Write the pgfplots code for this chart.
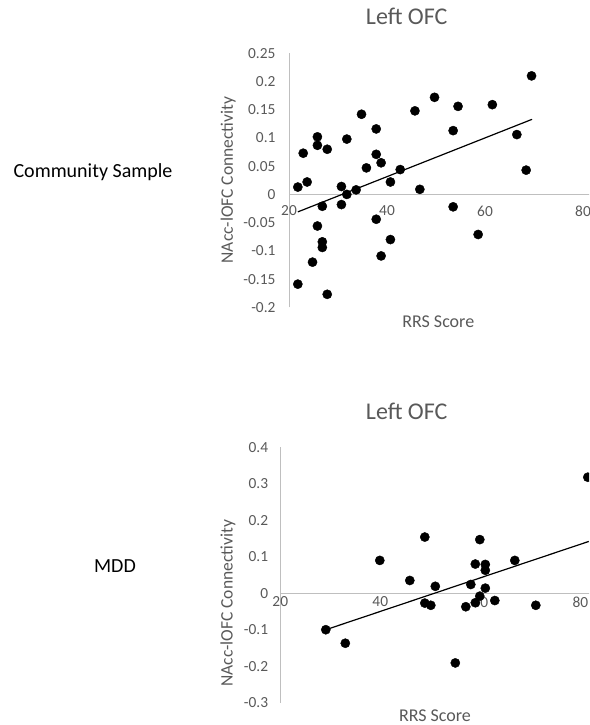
\documentclass[border=0pt]{standalone}
\usepackage{pgfplots}
\pgfplotsset{compat=1.18}
\usepackage{pgfplotstable}
\usepackage{fontspec}
\setmainfont{Carlito}

\definecolor{txtgray}{HTML}{595959}
\definecolor{axisgray}{HTML}{BFBFBF}

% community sample: RRS score vs connectivity
\pgfplotstableread{
x y
21.8 0.013
22.9 0.073
23.7 0.022
25.8 0.102
25.8 0.087
27.8 0.080
26.8 -0.021
25.8 -0.056
26.8 -0.084
26.8 -0.094
24.8 -0.120
21.8 -0.159
27.8 -0.177
30.7 0.014
30.7 -0.018
31.8 0.098
31.8 0.000
33.7 0.008
34.8 0.142
35.8 0.047
37.8 0.116
37.8 0.071
38.8 0.056
37.8 -0.044
38.8 -0.109
40.7 0.022
40.7 -0.080
42.7 0.044
45.7 0.148
46.7 0.009
49.7 0.172
53.5 0.113
53.5 -0.022
54.5 0.156
58.6 -0.071
61.5 0.159
66.5 0.106
68.4 0.043
69.5 0.210
}\community

% MDD sample
\pgfplotstableread{
x y
29.1 -0.100
33.0 -0.137
39.9 0.090
45.9 0.035
48.9 0.154
48.9 -0.027
50.1 -0.033
51.0 0.019
55.0 -0.191
57.1 -0.037
58.1 0.024
59.0 0.080
59.0 -0.026
59.9 -0.008
59.9 0.147
61.0 0.079
61.0 0.063
61.0 0.014
62.9 -0.020
66.9 0.090
71.1 -0.033
81.5 0.318
}\mdd

\pgfplotsset{
  excelscatter/.style={
    scale only axis, anchor=south west,
    axis x line=middle, axis y line=left,
    axis line style={-, draw=axisgray, line width=0.9pt},
    hide obscured x ticks=false, hide obscured y ticks=false,
    major tick length=0pt,
    tick label style={font=\fontsize{15.4}{17}\selectfont, text=txtgray},
    xmin=20, xmax=100, xtick={20,40,60,80},
    xticklabels={20,40,60,80},
    clip=false,
  },
}

\begin{document}
\begin{tikzpicture}[x=1pt,y=1pt]
\begin{scope}
\clip (0,0) rectangle (589,725);

% top chart
\begin{axis}[excelscatter,
  at={(289pt,417.7pt)}, width=392pt, height=254pt,
  ymin=-0.2, ymax=0.25,
  ytick={-0.2,-0.15,-0.1,-0.05,0,0.05,0.1,0.15,0.2,0.25},
  yticklabels={-0.2,-0.15,-0.1,-0.05,0,0.05,0.1,0.15,0.2,0.25},
  xticklabel style={yshift=-8pt},
  yticklabel style={xshift=-10pt},
]
\addplot[only marks, mark=*, mark size=4.6pt, black] table[x=x,y=y] {\community};
\addplot[black, line width=1.2pt] coordinates {(21.8,-0.031) (69.6,0.133)};
\end{axis}

% bottom chart
\begin{axis}[excelscatter,
  at={(280.3pt,22.3pt)}, width=400pt, height=255.4pt,
  ymin=-0.3, ymax=0.4,
  ytick={-0.3,-0.2,-0.1,0,0.1,0.2,0.3,0.4},
  yticklabels={-0.3,-0.2,-0.1,0,0.1,0.2,0.3,0.4},
  yticklabel style={xshift=-8.6pt},
]
\addplot[only marks, mark=*, mark size=4.6pt, black] table[x=x,y=y] {\mdd};
\addplot[black, line width=1.2pt] coordinates {(29.1,-0.100) (81.7,0.142)};
\end{axis}

% titles and labels
\node[text=txtgray, font=\fontsize{24}{26}\selectfont] at (406.7,708.3) {Left OFC};
\node[text=txtgray, font=\fontsize{24}{26}\selectfont] at (406.7,313.3) {Left OFC};
\node[text=txtgray, font=\fontsize{17.5}{19}\selectfont, rotate=90] at (228.3,545) {NAcc-lOFC Connectivity};
\node[text=txtgray, font=\fontsize{17.5}{19}\selectfont, rotate=90] at (228,121.7) {NAcc-lOFC Connectivity};
\node[text=txtgray, font=\fontsize{18}{20}\selectfont] at (438.3,403.3) {RRS Score};
\node[text=txtgray, font=\fontsize{18}{20}\selectfont, inner sep=1pt] at (435,9.6) {RRS Score};
\node[text=black, font=\fontsize{20}{22}\selectfont] at (93,553.3) {Community Sample};
\node[text=black, font=\fontsize{20}{22}\selectfont] at (115,159) {MDD};
\end{scope}
\pgfresetboundingbox
\path[use as bounding box] (0,0) rectangle (589,725);
\end{tikzpicture}
\end{document}
